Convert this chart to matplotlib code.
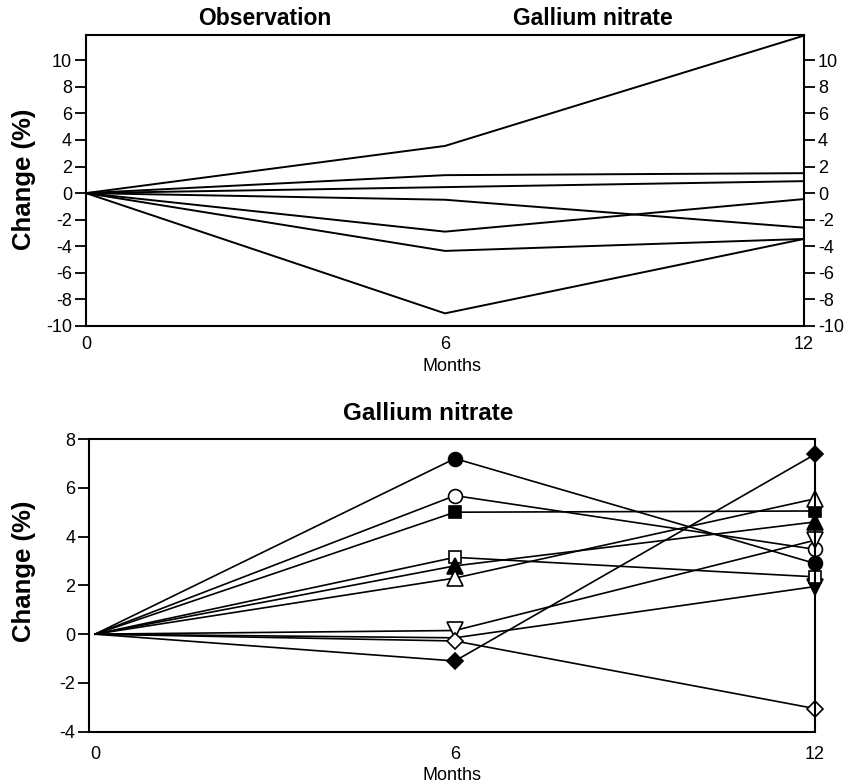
import numpy as np
import matplotlib
matplotlib.use("Agg")
import matplotlib.pyplot as plt

plt.rcParams['font.family'] = ['Liberation Sans', 'DejaVu Sans']
plt.rcParams['axes.unicode_minus'] = False

months = [0, 6, 12]

# top panel: observation / gallium nitrate, plain lines
obs_a = [0, 3.55, 11.85]
obs_b = [0, 1.35, 1.5]
obs_c = [0, 0.45, 0.9]
obs_d = [0, -0.5, -2.6]
obs_e = [0, -2.9, -0.45]
obs_f = [0, -4.35, -3.45]
obs_g = [0, -9.05, -3.45]
top_lines = [obs_a, obs_b, obs_c, obs_d, obs_e, obs_f, obs_g]
top_yticks = [-10, -8, -6, -4, -2, 0, 2, 4, 6, 8, 10]

# bottom panel: gallium nitrate, one line per patient
circle_filled = [0, 7.2, 2.9]
circle_open = [0, 5.68, 3.48]
square_filled = [0, 5.0, 5.05]
square_open = [0, 3.15, 2.35]
tri_up_filled = [0, 2.8, 4.6]
tri_up_open = [0, 2.3, 5.55]
tri_down_open = [0, 0.15, 3.85]
tri_down_filled = [0, -0.15, 1.95]
diamond_open = [0, -0.28, -3.05]
diamond_filled = [0, -1.1, 7.37]
bottom_yticks = [-4, -2, 0, 2, 4, 6, 8]

# (values, marker, filled?, which points get markers)
series = [
    (tri_down_filled, 'v', True, [2]),
    (diamond_filled, 'D', True, [1, 2]),
    (circle_filled, 'o', True, [1, 2]),
    (circle_open, 'o', False, [1, 2]),
    (square_filled, 's', True, [1, 2]),
    (square_open, 's', False, [1, 2]),
    (tri_up_filled, '^', True, [1, 2]),
    (tri_up_open, '^', False, [1, 2]),
    (tri_down_open, 'v', False, [1, 2]),
    (diamond_open, 'D', False, [1, 2]),
]
msize = {'o': 10, 's': 9, '^': 11, 'v': 11, 'D': 8.5}

fig = plt.figure(figsize=(8.47, 7.84), dpi=100)

# ---- top panel
ax1 = fig.add_axes([0.1015, 0.5842, 0.8477, 0.3712])
for ys in top_lines:
    ax1.plot(months, ys, color='black', lw=1.4, clip_on=False)
ax1.set_xlim(0, 12)
ax1.set_ylim(-10, 11.9)
ax1.set_xticks(months)
ax1.set_yticks(top_yticks)
ax1.tick_params(axis='x', length=0, pad=7, labelsize=13)
ax1.tick_params(axis='y', direction='out', length=8, width=1.3, labelsize=13,
                left=True, right=True, labelleft=True, labelright=True, pad=2)
for sp in ax1.spines.values():
    sp.set_linewidth(1.5)
ax1.set_ylabel('Change (%)', fontsize=18.5, fontweight='bold')
ax1.yaxis.set_label_coords(-0.0695, 0.505)
ax1.set_xlabel('Months', fontsize=13)
ax1.xaxis.set_label_coords(0.51, -0.11)
fig.text(0.313, 0.977, 'Observation', ha='center', va='center', fontsize=16.5, fontweight='bold')
fig.text(0.70, 0.977, 'Gallium nitrate', ha='center', va='center', fontsize=16.5, fontweight='bold')

# ---- bottom panel
ax2 = fig.add_axes([0.1051, 0.0667, 0.857, 0.3733])
for ys, mk, filled, every in series:
    ax2.plot(months, ys, color='black', lw=1.2, marker=mk, markevery=every,
             markersize=msize[mk],
             markerfacecolor='black' if filled else 'white',
             markeredgecolor='black', markeredgewidth=1.2, clip_on=False)
ax2.set_xlim(-0.1, 12)
ax2.set_ylim(-4, 8)
ax2.set_xticks(months)
ax2.set_yticks(bottom_yticks)
ax2.tick_params(axis='x', length=0, pad=10, labelsize=13)
ax2.tick_params(axis='y', direction='out', length=8, width=1.3, labelsize=13, pad=2)
for sp in ax2.spines.values():
    sp.set_linewidth(1.5)
ax2.set_ylabel('Change (%)', fontsize=18.5, fontweight='bold')
ax2.yaxis.set_label_coords(-0.073, 0.549)
ax2.set_xlabel('Months', fontsize=13)
ax2.xaxis.set_label_coords(0.5, -0.12)
fig.text(0.505, 0.472, 'Gallium nitrate', ha='center', va='center', fontsize=17.5, fontweight='bold')

fig.savefig('out.png', dpi=100)
